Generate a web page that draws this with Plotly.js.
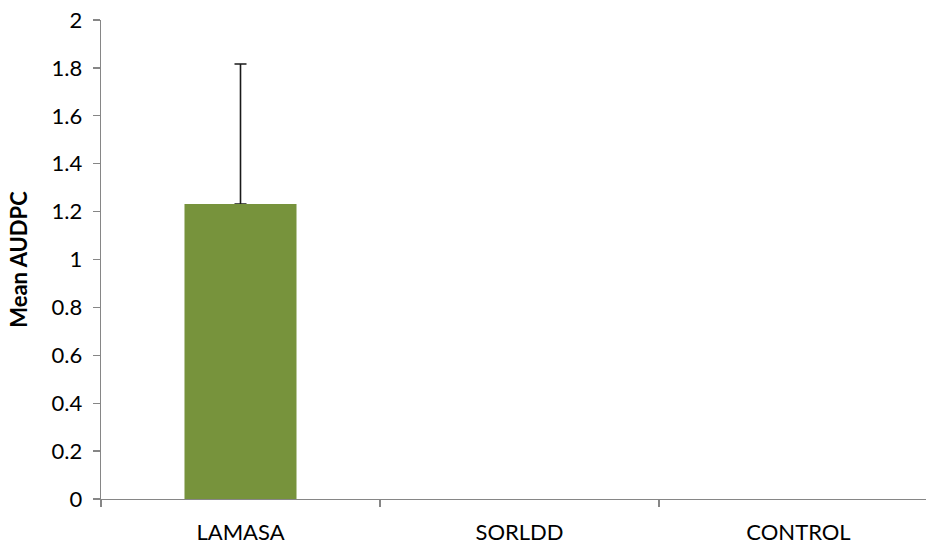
<!DOCTYPE html>
<html><head><meta charset="utf-8">
<script src="https://cdn.plot.ly/plotly-3.0.1.min.js"></script>
<style>html,body{margin:0;padding:0;overflow:hidden;background:#fff}</style>
</head><body><div id="chart" style="width:927px;height:546px"></div>
<script>
const categories = ["LAMASA", "SORLDD", "CONTROL"];
const meanAUDPC = [1.232, 0, 0];
const errorPlus = [0.584, NaN, NaN];
const errorMinus = [0, NaN, NaN];
const yTickVals = [0, 0.2, 0.4, 0.6, 0.8, 1, 1.2, 1.4, 1.6, 1.8, 2];
const yTickText = ["0", "0.2", "0.4", "0.6", "0.8", "1", "1.2", "1.4", "1.6", "1.8", "2"];

const barColor = "#77933C";
const errorTrace = {
  type: "bar",
  x: categories,
  y: meanAUDPC,
  width: 0.4,
  marker: {color: barColor, line: {width: 0}},
  error_y: {type: "data", symmetric: false, array: errorPlus, arrayminus: errorMinus,
            color: "#1a1a1a", thickness: 1.6, width: 6}
};
const barTrace = {
  type: "bar",
  x: categories,
  y: meanAUDPC,
  yaxis: "y2",
  width: 0.4,
  marker: {color: barColor, line: {width: 0}}
};
const fam = "Lato, 'Open Sans', sans-serif";
const font = {family: fam, size: 22, color: "#000"};
const layout = {
  width: 927, height: 546,
  margin: {l: 101, r: 1, t: 20, b: 47},
  paper_bgcolor: "#fff", plot_bgcolor: "#fff",
  font: font,
  showlegend: false,
  barmode: "overlay",
  xaxis: {
    type: "category",
    range: [-0.5, 2.457],
    showline: true, linecolor: "#868686", linewidth: 1.3,
    ticks: "outside", tickson: "boundaries", ticklen: 7, tickcolor: "#868686", tickwidth: 1.3,
    showgrid: false, zeroline: false,
    tickfont: {family: fam, size: 22, color: "#000"},
    ticklabelstandoff: 13
  },
  yaxis: {
    range: [0, 2],
    tickvals: yTickVals, ticktext: yTickText,
    showline: true, linecolor: "#868686", linewidth: 1.3,
    ticks: "outside", ticklen: 7, tickcolor: "#868686", tickwidth: 1.3,
    showgrid: false, zeroline: false,
    tickfont: font,
    ticklabelstandoff: 6,
    title: {text: "<b>Mean AUDPC</b>", font: {family: fam, size: 22, color: "#000"}, standoff: 18}
  },
  yaxis2: {
    range: [0, 2], overlaying: "y", visible: false,
    showgrid: false, zeroline: false
  }
};
Plotly.newPlot("chart", [errorTrace, barTrace], layout, {displayModeBar: false, staticPlot: true});
</script></body></html>
